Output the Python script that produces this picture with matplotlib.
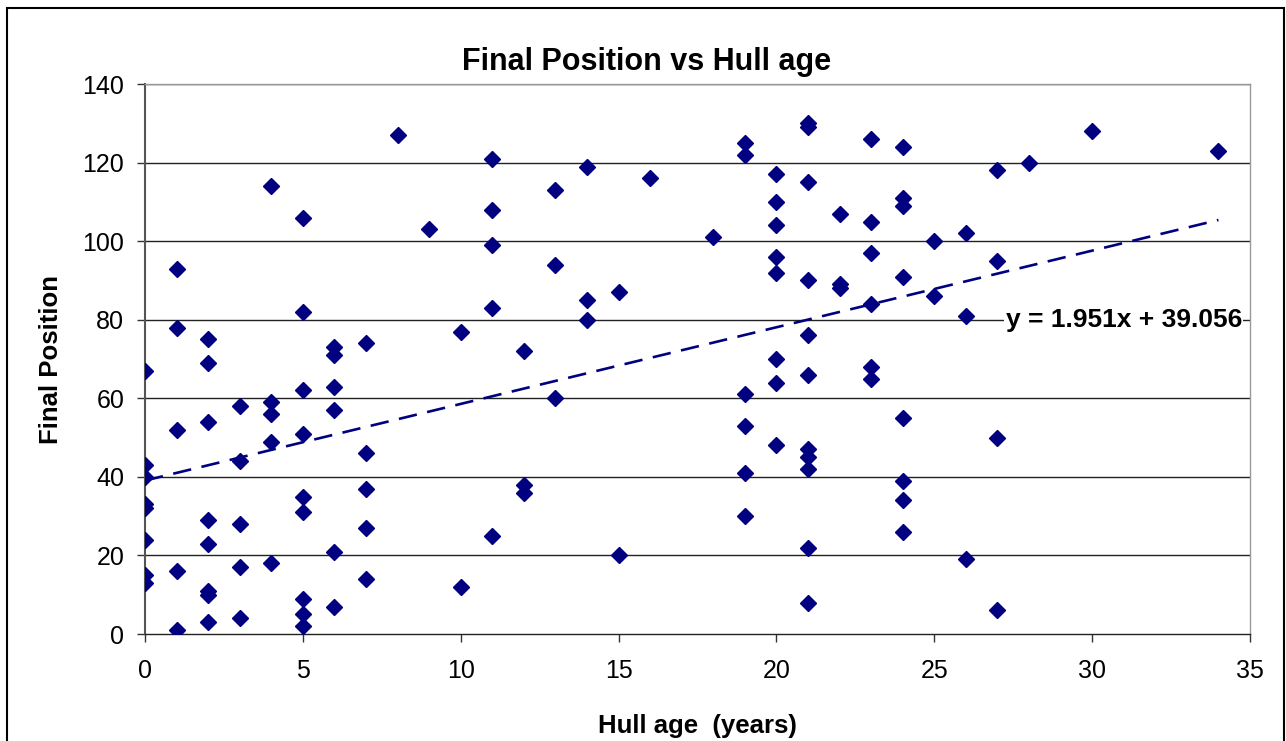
import matplotlib
matplotlib.use("Agg")
import matplotlib.pyplot as plt
import numpy as np

plt.rcParams['font.family'] = ['Liberation Sans', 'DejaVu Sans']

# Data: final positions grouped by hull age (years)
ages_0 = [67, 43, 40, 33, 32, 24, 15, 13]
ages_1 = [93, 78, 52, 16, 1]
ages_2 = [75, 69, 54, 29, 23, 11, 10, 3]
ages_3 = [58, 44, 28, 17, 4]
ages_4 = [114, 59, 56, 49, 18]
ages_5 = [106, 82, 62, 51, 35, 31, 9, 5, 2]
ages_6 = [73, 71, 63, 57, 21, 7]
ages_7 = [74, 46, 37, 27, 14]
ages_8 = [127]
ages_9 = [103]
ages_10 = [77, 12]
ages_11 = [121, 108, 99, 83, 25]
ages_12 = [72, 38, 36]
ages_13 = [113, 94, 60]
ages_14 = [119, 85, 80]
ages_15 = [87, 20]
ages_16 = [116]
ages_18 = [101]
ages_19 = [125, 122, 61, 53, 41, 30]
ages_20 = [117, 110, 104, 96, 92, 70, 64, 48]
ages_21 = [130, 129, 115, 90, 76, 66, 47, 45, 42, 22, 8]
ages_22 = [107, 89, 88]
ages_23 = [126, 105, 97, 84, 68, 65]
ages_24 = [124, 111, 109, 91, 55, 39, 34, 26]
ages_25 = [100, 86]
ages_26 = [102, 81, 19]
ages_27 = [118, 95, 50, 6]
ages_28 = [120]
ages_30 = [128]
ages_34 = [123]

groups = {
    0: ages_0, 1: ages_1, 2: ages_2, 3: ages_3, 4: ages_4, 5: ages_5,
    6: ages_6, 7: ages_7, 8: ages_8, 9: ages_9, 10: ages_10, 11: ages_11,
    12: ages_12, 13: ages_13, 14: ages_14, 15: ages_15, 16: ages_16,
    18: ages_18, 19: ages_19, 20: ages_20, 21: ages_21, 22: ages_22,
    23: ages_23, 24: ages_24, 25: ages_25, 26: ages_26, 27: ages_27,
    28: ages_28, 30: ages_30, 34: ages_34,
}

trend_slope = 1.951
trend_intercept = 39.056
x_ticks = [0, 5, 10, 15, 20, 25, 30, 35]
y_ticks = [0, 20, 40, 60, 80, 100, 120, 140]

hull_age = []
final_pos = []
for a, vals in groups.items():
    hull_age += [a] * len(vals)
    final_pos += vals
hull_age = np.array(hull_age, dtype=float)
final_pos = np.array(final_pos, dtype=float)

navy = '#000080'

fig = plt.figure(figsize=(12.86, 7.41), dpi=100)
# outer chart frame (bottom edge cut off in the reference)
fig.patches.append(plt.Rectangle((7/1286, -0.01), (1284-7)/1286, 1 - 8/741 + 0.01,
                                 transform=fig.transFigure, fill=False,
                                 edgecolor='black', linewidth=1.5))

ax = fig.add_axes([145/1286, 1 - 634/741, (1250-145)/1286, (634-84)/741])
ax.set_xlim(0, 35)
ax.set_ylim(0, 140)

for y in y_ticks[1:]:
    ax.axhline(y, color='#222222', linewidth=1.0, zorder=1)

ax.plot(hull_age, final_pos, linestyle='none', marker='D', markersize=8,
        color=navy, markeredgecolor=navy, zorder=3)

xt = np.array([0, hull_age.max()])
ax.plot(xt, trend_slope * xt + trend_intercept, color=navy, linewidth=1.9,
        dashes=(7, 4), zorder=2)

ax.text(34.75, 80, f"y = {trend_slope:.3f}x + {trend_intercept:.3f}",
        ha='right', va='center', fontsize=19, fontweight='bold',
        bbox=dict(facecolor='white', edgecolor='none', pad=1), zorder=4)

ax.set_xticks(x_ticks)
ax.set_yticks(y_ticks)
ax.tick_params(axis='both', labelsize=18, direction='out', length=6,
               color='#333333', width=1.0)
ax.tick_params(axis='x', pad=12)
ax.tick_params(axis='y', pad=9)

for side in ['top', 'right']:
    ax.spines[side].set_color('#999999')
    ax.spines[side].set_linewidth(1.0)
ax.spines['left'].set_color('#555555')
ax.spines['left'].set_linewidth(1.5)
ax.spines['bottom'].set_color('#222222')
ax.spines['bottom'].set_linewidth(1.0)

# title is centred over the whole chart frame, not over the plot area
ax.set_title('Final Position vs Hull age', fontsize=22, fontweight='bold', pad=10,
             x=(647 - 145) / (1250 - 145))
ax.set_xlabel('Hull age  (years)', fontsize=18.5, fontweight='bold', labelpad=22)
ax.set_ylabel('Final Position', fontsize=18.5, fontweight='bold', labelpad=14)

fig.savefig('out.png', dpi=100)
